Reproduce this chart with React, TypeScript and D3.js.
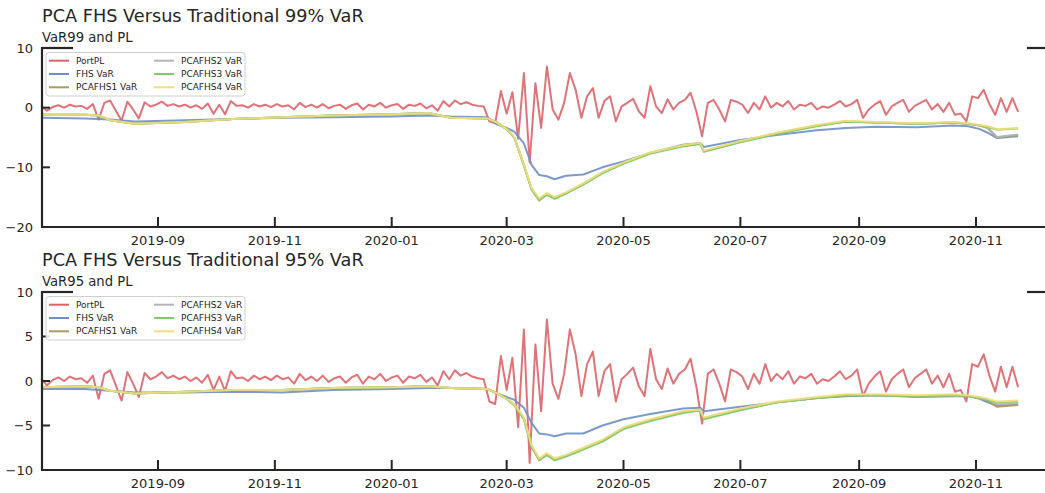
import React from 'react';
import * as d3 from 'd3';

// portfolio P&L, sampled every 3 days from 2019-07-02
const plStart = new Date(2019, 6, 2);
const plStepDays = 3;
const portPL = [
  0.3, -0.5, 0.1, 0.4, 0.0, 0.5, 0.2, 0.3, -0.2, 0.6,
  -2.0, 0.8, 1.2, -0.5, -2.2, 1.0, -0.3, -1.8, 0.9, 0.2,
  0.5, 1.0, 0.3, 0.6, 0.2, 0.5, 0.0, 0.4, -0.2, 0.7,
  -1.0, 0.5, -1.1, 1.1, 0.3, 0.4, 0.0, 0.6, 0.2, 0.5,
  0.1, 0.6, 0.2, 0.4, -0.3, 0.8, 0.1, 0.5, 0.0, 0.6,
  -0.1, 0.3, 0.5, -0.2, 0.4, 0.7, -0.3, 0.5, 0.2, 0.8,
  0.0, 0.4, 0.6, -0.2, 0.5, 0.3, 0.7, -0.1, 0.4, -0.5,
  1.1, 0.2, 1.2, 0.6, 0.9, 0.5, 0.3, 0.2, -2.3, -2.6,
  2.8, -1.0, 2.6, -5.2, 5.8, -9.2, 4.1, -3.4, 6.9, -0.3,
  -2.0, 0.8, 5.8, 3.0, -1.7, 1.9, 3.3, -1.7, 1.1, 1.9,
  -2.3, 0.2, 0.8, 1.5, -0.6, -1.7, 3.6, 0.2, -0.9, 1.4,
  -0.3, 0.8, 1.3, 2.5, -0.6, -4.8, 0.8, 1.3, -0.3, -2.3,
  1.3, 1.0, 0.5, -0.9, 0.8, -0.3, 1.9, 0.0, 0.8, 0.2,
  1.1, -0.3, 0.5, 0.3, 0.8, -0.3, 0.2, 0.0, 0.5, 1.1,
  0.2, 0.6, 1.3, -1.7, -0.3, 0.5, 1.1, -1.2, 0.2, 0.8,
  1.3, -0.7, 0.3, 0.8, 1.3, -0.3, 0.6, -0.7, 0.8, -1.2,
  -1.0, -2.3, 1.9, 1.6, 3.0, 0.6, -1.2, 1.6, -0.7, 1.6, -0.7,
];

// VaR series share these dates
const varDates = [
  '2019-07-02', '2019-07-25', '2019-08-01', '2019-08-07', '2019-08-20', '2019-09-15',
  '2019-10-10', '2019-11-05', '2019-12-01', '2020-01-01', '2020-01-20', '2020-02-01',
  '2020-02-20', '2020-02-25', '2020-03-01', '2020-03-05', '2020-03-10', '2020-03-14',
  '2020-03-18', '2020-03-22', '2020-03-26', '2020-04-01', '2020-04-10', '2020-04-20',
  '2020-05-01', '2020-05-15', '2020-06-01', '2020-06-10', '2020-06-12', '2020-07-01',
  '2020-07-20', '2020-08-10', '2020-08-25', '2020-09-10', '2020-10-01', '2020-10-20',
  '2020-10-28', '2020-11-03', '2020-11-07', '2020-11-12', '2020-11-23',
];

const fhs99 = [-1.7, -1.8, -1.9, -2.0, -2.3, -2.1, -1.9, -1.7, -1.6, -1.5, -1.3, -1.5, -1.6, -2.8, -3.4, -4.0, -6.0, -9.6, -11.3, -11.5, -12.0, -11.4, -11.2, -10.0, -9.0, -7.6, -6.2, -5.9, -6.6, -5.4, -4.6, -3.8, -3.4, -3.2, -3.3, -3.0, -3.1, -3.6, -4.2, -5.1, -4.8];
const pca1_99 = [-1.2, -1.2, -1.3, -2.1, -2.7, -2.4, -1.9, -1.6, -1.3, -1.1, -0.9, -1.7, -1.8, -2.5, -3.6, -5.0, -9.6, -13.6, -15.4, -14.4, -15.1, -14.3, -12.8, -10.9, -9.3, -7.6, -6.4, -6.0, -7.3, -5.7, -4.3, -3.0, -2.3, -2.5, -2.7, -2.5, -2.7, -3.0, -3.4, -5.0, -4.6];
const pca2_99 = [-1.2, -1.2, -1.3, -2.1, -2.7, -2.4, -1.9, -1.6, -1.3, -1.1, -0.9, -1.7, -1.8, -2.5, -3.6, -5.0, -9.7, -13.7, -15.6, -14.5, -15.2, -14.3, -12.8, -10.9, -9.3, -7.6, -6.4, -6.0, -7.3, -5.7, -4.3, -3.0, -2.3, -2.5, -2.7, -2.5, -2.7, -3.0, -3.3, -4.9, -4.5];
const pca3_99 = [-1.2, -1.2, -1.3, -2.1, -2.7, -2.4, -1.9, -1.6, -1.3, -1.1, -0.9, -1.7, -1.8, -2.5, -3.6, -5.0, -9.7, -13.7, -15.5, -14.6, -15.3, -14.4, -12.9, -11.0, -9.4, -7.7, -6.5, -6.1, -7.4, -5.8, -4.4, -3.1, -2.3, -2.5, -2.7, -2.5, -2.7, -3.0, -3.2, -3.7, -3.5];
const pca4_99 = [-1.2, -1.2, -1.3, -2.1, -2.7, -2.4, -1.9, -1.6, -1.3, -1.1, -0.9, -1.7, -1.8, -2.5, -3.6, -4.9, -9.5, -13.5, -15.2, -14.3, -15.0, -14.2, -12.7, -10.8, -9.2, -7.5, -6.3, -5.9, -7.2, -5.6, -4.2, -2.9, -2.2, -2.4, -2.6, -2.4, -2.6, -2.9, -3.1, -3.6, -3.4];

const fhs95 = [-0.9, -0.9, -1.0, -1.1, -1.3, -1.3, -1.2, -1.3, -1.0, -0.9, -0.8, -0.8, -0.9, -1.4, -1.8, -2.1, -3.0, -4.7, -5.9, -6.0, -6.2, -5.9, -5.9, -5.0, -4.3, -3.7, -3.1, -3.0, -3.4, -2.9, -2.4, -1.9, -1.7, -1.6, -1.8, -1.7, -1.7, -2.0, -2.4, -2.8, -2.6];
const pca1_95 = [-0.7, -0.6, -0.7, -1.1, -1.4, -1.2, -1.0, -1.0, -0.8, -0.7, -0.6, -0.8, -0.9, -1.4, -2.0, -2.7, -4.2, -7.3, -8.8, -8.2, -8.8, -8.4, -7.6, -6.7, -5.3, -4.4, -3.5, -3.3, -4.2, -3.2, -2.4, -1.9, -1.6, -1.6, -1.7, -1.6, -1.7, -1.9, -2.2, -2.9, -2.7];
const pca2_95 = [-0.7, -0.6, -0.7, -1.1, -1.4, -1.2, -1.0, -1.0, -0.8, -0.7, -0.6, -0.8, -0.9, -1.4, -2.0, -2.7, -4.2, -7.4, -8.9, -8.3, -8.9, -8.4, -7.6, -6.7, -5.3, -4.4, -3.5, -3.3, -4.2, -3.2, -2.4, -1.9, -1.6, -1.6, -1.7, -1.6, -1.7, -1.9, -2.1, -2.6, -2.5];
const pca3_95 = [-0.7, -0.6, -0.7, -1.1, -1.4, -1.2, -1.0, -1.0, -0.8, -0.7, -0.6, -0.8, -0.9, -1.4, -2.0, -2.7, -4.3, -7.4, -8.9, -8.3, -8.9, -8.5, -7.7, -6.8, -5.4, -4.5, -3.6, -3.3, -4.3, -3.3, -2.4, -1.9, -1.6, -1.6, -1.7, -1.6, -1.7, -1.9, -2.1, -2.4, -2.3];
const pca4_95 = [-0.7, -0.6, -0.7, -1.1, -1.4, -1.2, -1.0, -1.0, -0.8, -0.7, -0.6, -0.8, -0.9, -1.4, -2.0, -2.6, -4.1, -7.2, -8.7, -8.1, -8.7, -8.3, -7.5, -6.6, -5.2, -4.3, -3.4, -3.2, -4.1, -3.1, -2.3, -1.8, -1.5, -1.5, -1.6, -1.5, -1.6, -1.8, -2.0, -2.3, -2.2];

const seriesNames = ['PortPL', 'FHS VaR', 'PCAFHS1 VaR', 'PCAFHS2 VaR', 'PCAFHS3 VaR', 'PCAFHS4 VaR'];
const seriesColors = ['#dc6469', '#6f8fc8', '#a69d62', '#b4b4b4', '#80cc62', '#f3dd7c'];

const xTicks = ['2019-09', '2019-11', '2020-01', '2020-03', '2020-05', '2020-07', '2020-09', '2020-11'];

const W = 1045;
const H = 493;
const font = 'DejaVu Sans, sans-serif';
const ink = '#262626';

const parse = d3.timeParse('%Y-%m-%d');
const parseMonth = d3.timeParse('%Y-%m');
const plDates = portPL.map((_, i) => d3.timeDay.offset(plStart, i * plStepDays));
const vDates = varDates.map((s) => parse(s) as Date);

const x = d3.scaleTime()
  .domain([new Date(2019, 8, 1), new Date(2020, 10, 1)])
  .range([158, 976]);

function Panel({ top, bottom, yDomain, yTicks, title, subtitle, vars }) {
  const left = 42;
  const y = d3.scaleLinear().domain(yDomain).range([bottom, top]);
  const line = d3.line<[Date, number]>().x((d) => x(d[0])).y((d) => y(d[1]));
  const plPath = line(portPL.map((v, i) => [plDates[i], v]));
  const varPaths = vars.map((s) => line(s.map((v, i) => [vDates[i], v])));
  const paths = [plPath, ...varPaths];
  const fmt = (v) => (v < 0 ? '\u2212' + Math.abs(v) : String(v));

  return (
    <g>
      <text x={left} y={top - 26} fontSize={17.7} fill={ink} fontFamily={font}>{title}</text>
      <text x={left} y={top - 6} fontSize={13.2} fill={ink} fontFamily={font}>{subtitle}</text>

      {paths.map((d, i) => (
        <path key={i} d={d || ''} fill="none" stroke={seriesColors[i]} strokeWidth={2}
          strokeOpacity={0.9} strokeLinejoin="round" />
      ))}

      {/* spines */}
      <line x1={left} x2={left} y1={top - 1} y2={bottom + 1} stroke={ink} strokeWidth={2.2} />
      <line x1={left - 1} x2={W + 5} y1={bottom} y2={bottom} stroke={ink} strokeWidth={2.2} />
      <line x1={left - 1} x2={73} y1={top} y2={top} stroke={ink} strokeWidth={2.2} />
      <line x1={1027} x2={W + 5} y1={top} y2={top} stroke={ink} strokeWidth={2.2} />

      {yTicks.map((t) => (
        <g key={t}>
          <line x1={left} x2={left + 8} y1={y(t)} y2={y(t)} stroke={ink} strokeWidth={2} />
          <text x={left - 9} y={y(t)} dy="0.36em" textAnchor="end" fontSize={13}
            fill={ink} fontFamily={font}>{fmt(t)}</text>
        </g>
      ))}

      {xTicks.map((t) => {
        const px = x(parseMonth(t) as Date);
        return (
          <g key={t}>
            <line x1={px} x2={px} y1={bottom} y2={bottom - 10} stroke={ink} strokeWidth={2} />
            <text x={px} y={bottom + 18} textAnchor="middle" fontSize={13}
              fill={ink} fontFamily={font}>{t}</text>
          </g>
        );
      })}

      {/* legend */}
      <rect x={46} y={top + 4.5} width={199} height={43.5} rx={3} fill="#fff" fillOpacity={0.85}
        stroke="#d0d0d0" strokeWidth={1} />
      {seriesNames.map((name, i) => {
        const col = Math.floor(i / 3);
        const row = i % 3;
        const lx = col === 0 ? 49 : 154;
        const ly = top + 12.7 + row * 13.3;
        return (
          <g key={name}>
            <line x1={lx} x2={lx + 20} y1={ly} y2={ly} stroke={seriesColors[i]} strokeWidth={2} />
            <text x={lx + 27} y={ly} dy="0.35em" fontSize={9} fill={ink} fontFamily={font}>{name}</text>
          </g>
        );
      })}
    </g>
  );
}

export default function App() {
  return (
    <svg width={W} height={H} style={{ position: 'absolute', left: 0, top: 0, background: '#fff' }}>
      <Panel top={48} bottom={227} yDomain={[-20, 10]} yTicks={[10, 0, -10, -20]}
        title="PCA FHS Versus Traditional 99% VaR" subtitle="VaR99 and PL"
        vars={[fhs99, pca1_99, pca2_99, pca3_99, pca4_99]} />
      <Panel top={292} bottom={470} yDomain={[-10, 10]} yTicks={[10, 5, 0, -5, -10]}
        title="PCA FHS Versus Traditional 95% VaR" subtitle="VaR95 and PL"
        vars={[fhs95, pca1_95, pca2_95, pca3_95, pca4_95]} />
    </svg>
  );
}
